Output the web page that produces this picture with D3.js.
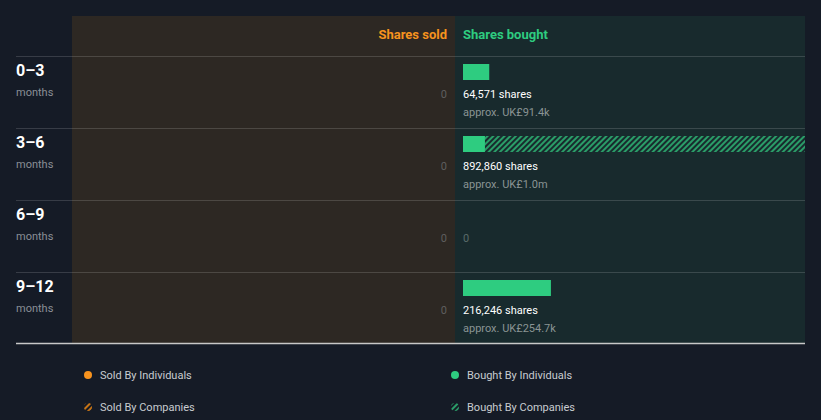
<!DOCTYPE html>
<html><head><meta charset="utf-8">
<script src="https://cdn.jsdelivr.net/npm/d3@7"></script>
<style>
html,body{margin:0;padding:0;background:#151b26;}
svg{display:block;font-family:Roboto,"Noto Sans",sans-serif;}
</style></head>
<body><svg id="c" width="821" height="420"></svg>
<script>
const periods = ["0–3", "3–6", "6–9", "9–12"];
const periodUnit = "months";
const soldIndividuals = [0, 0, 0, 0];
const soldCompanies = [0, 0, 0, 0];
const boughtIndividuals = [64571, 54000, 0, 216246];
const boughtCompanies = [0, 838860, 0, 0];
const boughtTotals = [64571, 892860, 0, 216246];
const boughtValues = ["UK£91.4k", "UK£1.0m", null, "UK£254.7k"];
const legendItems = ["Sold By Individuals", "Bought By Individuals", "Sold By Companies", "Bought By Companies"];

(function(){
const svg = d3.select("#c");
const leftX = 16, panelL = 72, mid = 455, rightX = 805, topY = 16, headerH = 40, rowH = 72;
const colSold = "#2d2823", colBought = "#182a2d";
const green = "#2ecc80", orange = "#f7931e";

const defs = svg.append("defs");
function hatch(id, color){
  const p = defs.append("pattern").attr("id", id).attr("patternUnits","userSpaceOnUse")
    .attr("width",4).attr("height",4).attr("patternTransform","rotate(45)");
  p.append("rect").attr("x",0).attr("width",2).attr("height",4).attr("fill",color);
}
hatch("hg", "#2a9d68");
hatch("ho", "#c77415");
const clip = defs.append("clipPath").attr("id","bclip");
clip.append("rect").attr("x",mid).attr("y",topY).attr("width",rightX-mid).attr("height",headerH+rowH*4);

const y = d3.scaleBand().domain(periods).range([topY+headerH, topY+headerH+rowH*4]);
const xB = d3.scaleLinear().domain([0, 892860]).range([0, 363]);

svg.append("rect").attr("x",panelL).attr("y",topY).attr("width",mid-panelL).attr("height",headerH+rowH*4).attr("fill",colSold);
svg.append("rect").attr("x",mid).attr("y",topY).attr("width",rightX-mid).attr("height",headerH+rowH*4).attr("fill",colBought);

svg.append("text").attr("x",mid-8).attr("y",topY+23).attr("text-anchor","end").attr("fill",orange)
  .attr("font-size",13).attr("font-weight",700).text("Shares sold");
svg.append("text").attr("x",mid+8).attr("y",topY+23).attr("fill",green)
  .attr("font-size",13).attr("font-weight",700).text("Shares bought");

periods.forEach((p,i)=>{
  svg.append("line").attr("x1",leftX).attr("x2",rightX).attr("y1",y(p)+0.5).attr("y2",y(p)+0.5)
    .attr("stroke","#ffffff").attr("stroke-opacity",0.15);
});
svg.append("line").attr("x1",leftX).attr("x2",rightX).attr("y1",y.range()[1]-0.5).attr("y2",y.range()[1]-0.5)
  .attr("stroke","#c8c8c8").attr("stroke-width",1.3);

const fmt = d3.format(",");
const g = svg.append("g");
periods.forEach((p,i)=>{
  const t = y(p);
  g.append("text").attr("x",leftX).attr("y",t+20).attr("fill","#ffffff").attr("font-size",16).attr("font-weight",700).text(p);
  g.append("text").attr("x",leftX).attr("y",t+40).attr("fill","#8a8f96").attr("font-size",11).text(periodUnit);
  const sTot = soldIndividuals[i]+soldCompanies[i];
  if (sTot === 0) {
    g.append("text").attr("x",mid-8).attr("y",t+42).attr("text-anchor","end").attr("fill","#5f5f5f").attr("font-size",11).text("0");
  }
  const bi = boughtIndividuals[i], bc = boughtCompanies[i];
  if (boughtTotals[i] === 0) {
    g.append("text").attr("x",mid+8).attr("y",t+42).attr("fill","#5a6a6a").attr("font-size",11).text("0");
  } else {
    const bg = g.append("g").attr("clip-path","url(#bclip)");
    bg.append("rect").attr("x",mid+8).attr("y",t+8).attr("width",xB(bi)).attr("height",16).attr("fill",green);
    if (bc > 0) bg.append("rect").attr("x",mid+8+xB(bi)).attr("y",t+8).attr("width",xB(bc)).attr("height",16).attr("fill","url(#hg)");
    g.append("text").attr("x",mid+8).attr("y",t+42).attr("fill","#ffffff").attr("font-size",11).attr("font-weight",400).text(fmt(boughtTotals[i])+" shares");
    g.append("text").attr("x",mid+8).attr("y",t+60).attr("fill","#8a9494").attr("font-size",11).text("approx. "+boughtValues[i]);
  }
});

const lx = [88, 455], ly = [375, 407];
legendItems.forEach((name,i)=>{
  const cx = lx[i%2], cy = ly[Math.floor(i/2)];
  const isSold = name.startsWith("Sold");
  const isComp = name.includes("Companies");
  const c = isSold ? orange : green;
  svg.append("circle").attr("cx",cx).attr("cy",cy).attr("r",4)
    .attr("fill", isComp ? (isSold ? "url(#ho)" : "url(#hg)") : c);
  svg.append("text").attr("x",cx+12).attr("y",cy+4).attr("fill","#c8ccd0").attr("font-size",11).text(name);
});
})();
</script></body></html>
